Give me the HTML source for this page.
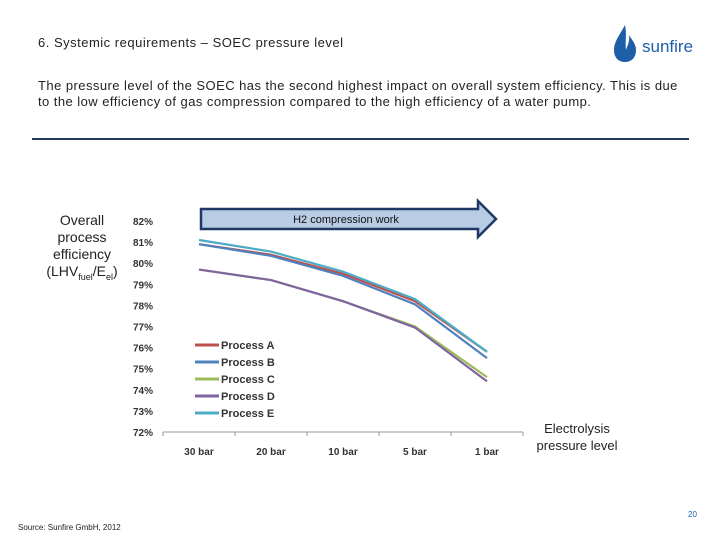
<!DOCTYPE html>
<html><head><meta charset="utf-8"><style>
body{margin:0;background:#fff;font-family:"Liberation Sans",sans-serif}
#root{position:relative;width:720px;height:540px;overflow:hidden}
.t{position:absolute;color:#222}
</style></head><body>
<div id="root">
<div class="t" style="left:38px;top:35px;font-size:13px;letter-spacing:0.5px">6. Systemic requirements – SOEC pressure level</div>
<svg style="position:absolute;left:605px;top:20px" width="90" height="45">
<path d="M20 5 C14 16 9 22 9 30 C9 38 14 42 20 42 C26 42 31 38 31 30 C31 24 27 20 24 15 C25 22 22 26 21 30 C20 22 22 14 20 5Z" fill="#1f5fa8"/>
<text x="37" y="32" font-family="Liberation Sans,sans-serif" font-size="17" fill="#1f5fa8">sunfire</text>
</svg>
<div class="t" style="left:38px;top:78px;width:650px;font-size:13px;line-height:16px;letter-spacing:0.45px">The pressure level of the SOEC has the second highest impact on overall system efficiency. This is due to the low efficiency of gas compression compared to the high efficiency of a water pump.</div>
<div style="position:absolute;left:32px;top:138px;width:657px;height:2px;background:#1f3864"></div>
<div class="t" style="left:40px;top:212px;width:84px;text-align:center;font-size:14px;line-height:17px">Overall process efficiency (LHV<sub style="font-size:9px">fuel</sub>/E<sub style="font-size:9px">el</sub>)</div>
<div class="t" style="left:525px;top:420px;width:104px;text-align:center;font-size:13px;line-height:17px">Electrolysis pressure level</div>
<svg id="chart" style="position:absolute;left:0;top:0" width="720" height="540"></svg>
<div class="t" style="left:688px;top:510px;font-size:8px;color:#1f5fa8">20</div>
<div class="t" style="left:18px;top:523px;font-size:8px">Source: Sunfire GmbH, 2012</div>
</div>
<script>
const categories=["30 bar","20 bar","10 bar","5 bar","1 bar"];
const seriesNames=["Process A","Process B","Process C","Process D","Process E"];
const seriesA=[80.9,80.4,79.5,78.2,75.8];
const seriesB=[80.9,80.35,79.4,78.05,75.5];
const seriesC=[79.7,79.2,78.2,77.0,74.6];
const seriesD=[79.7,79.2,78.2,76.95,74.4];
const seriesE=[81.1,80.55,79.6,78.3,75.8];
const yTicks=[72,73,74,75,76,77,78,79,80,81,82];
const colors=["#c0504d","#4f81bd","#9bbb59","#8064a2","#4bacc6"];
const NS="http://www.w3.org/2000/svg";
const svg=document.getElementById('chart');
const x0=163,bw=72,yTop=221,yBot=432;
const xs=i=>x0+bw*(i+0.5);
const ys=v=>yBot-(v-72)/10*(yBot-yTop);
function mk(t,a){const e=document.createElementNS(NS,t);for(const k in a)e.setAttribute(k,a[k]);svg.appendChild(e);return e;}
let e=mk('line',{x1:x0,x2:x0+bw*5,y1:yBot,y2:yBot,stroke:'#999'});


for(let i=0;i<=5;i++){e=mk('line',{x1:x0+bw*i,x2:x0+bw*i,y1:yBot,y2:yBot+4,stroke:'#999'});

}
categories.forEach((c,i)=>{e=mk('text',{x:xs(i),y:455,'text-anchor':'middle','font-size':10,'font-weight':'bold',fill:'#333'});e.textContent=c;

});
yTicks.forEach(v=>{e=mk('text',{x:133,y:ys(v)+4,'font-size':10,'font-weight':'bold',fill:'#333'});e.textContent=v+'%';

});
e=mk('path',{d:'M201 209 L478 209 L478 201 L496 219 L478 237 L478 229 L201 229 Z',fill:'#b8cce4',stroke:'#1f3864','stroke-width':2.5});


e=mk('text',{x:346,y:223,'text-anchor':'middle','font-size':11,fill:'#111'});e.textContent='H2 compression work';


[seriesA,seriesB,seriesC,seriesD,seriesE].forEach((s,k)=>{
 e=mk('polyline',{points:s.map((v,i)=>xs(i)+','+ys(v)).join(' '),fill:'none',stroke:colors[k],'stroke-width':2.2});
 
 
 const ly=345+k*17;
 e=mk('line',{x1:195,x2:219,y1:ly,y2:ly,stroke:colors[k],'stroke-width':3});
 
 
 e=mk('text',{x:221,y:ly+4,'font-size':11,'font-weight':'bold',fill:'#333'});e.textContent=seriesNames[k];
 
 
});
</script>
</body></html>
